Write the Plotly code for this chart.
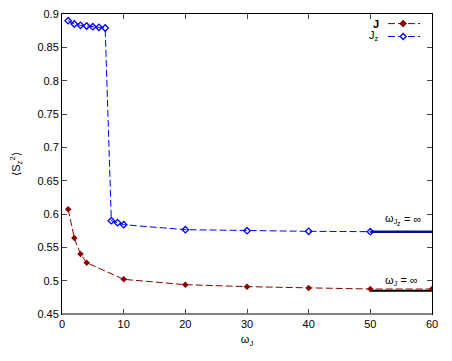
import plotly.graph_objects as go

# omega_J values and <S_z^2>
x_j = [1, 2, 3, 4, 10, 20, 30, 40, 50, 60]
s_j = [0.607, 0.564, 0.540, 0.527, 0.502, 0.494, 0.491, 0.489, 0.4875, 0.4875]

x_jz = [1, 2, 3, 4, 5, 6, 7, 8, 9, 10, 20, 30, 40, 50]
s_jz = [0.890, 0.885, 0.883, 0.882, 0.881, 0.880, 0.879, 0.590, 0.587, 0.584, 0.5765, 0.575, 0.574, 0.5735]

# limits for omega -> infinity
x_inf = [50, 60]
jz_inf = [0.5735, 0.5735]
j_inf = [0.485, 0.485]

red = "#8b0000"
blue = "#0000ff"
fam = "Liberation Sans, Arial, sans-serif"
font = dict(family=fam, size=11, color="black")
dash = "7px,3px"

fig = go.Figure()

# asymptote lines
fig.add_trace(go.Scatter(x=x_inf, y=jz_inf, mode="lines",
                         line=dict(color="#10108a", width=2.5), showlegend=False))
fig.add_trace(go.Scatter(x=x_inf, y=j_inf, mode="lines",
                         line=dict(color="black", width=2), showlegend=False))

fig.add_trace(go.Scatter(x=x_jz, y=s_jz, mode="lines+markers", name="J_z",
                         line=dict(color=blue, width=1, dash=dash),
                         marker=dict(symbol="diamond-open", size=5, color=blue, line=dict(width=1.3)),
                         showlegend=False))
fig.add_trace(go.Scatter(x=x_j, y=s_j, mode="lines+markers", name="J",
                         line=dict(color=red, width=1, dash=dash),
                         marker=dict(symbol="diamond", size=5, color=red),
                         showlegend=False))

# gnuplot-like key: text on the left, sample on the right
key = [("<b>J</b>", red, 0.968, "diamond"), ("J<sub>z</sub>", blue, 0.925, "diamond-open")]
for label, col, yk, sym in key:
    fig.add_annotation(x=0.862, y=yk, xref="paper", yref="paper", text=label,
                       showarrow=False, xanchor="right", yanchor="middle",
                       font=dict(family=fam, size=11, color="black"))
    fig.add_shape(type="line", xref="paper", yref="paper", x0=0.881, x1=0.968, y0=yk, y1=yk,
                  line=dict(color=col, width=1, dash=dash))
    dx, dy = 0.008, 0.010
    path = f"M {0.922-dx},{yk} L 0.922,{yk+dy} L {0.922+dx},{yk} L 0.922,{yk-dy} Z"
    fig.add_shape(type="path", xref="paper", yref="paper", path=path,
                  line=dict(color=col, width=1.3),
                  fillcolor=col if sym == "diamond" else "white")

# gray bottom border as in the original
fig.add_shape(type="line", xref="paper", yref="paper", x0=0, x1=1, y0=0, y1=0,
              line=dict(color="#808080", width=2))

# omega = infinity labels
small = dict(family=fam, size=11, color="black")
fig.add_annotation(x=52.0, y=0.592, text="ω<sub>J</sub>", showarrow=False, xanchor="left",
                   yanchor="middle", font=small)
fig.add_annotation(x=54.0, y=0.5855, text="z", showarrow=False, xanchor="left",
                   yanchor="middle", font=dict(family=fam, size=7, color="black"))
fig.add_annotation(x=55.2, y=0.5925, text="= ∞", showarrow=False, xanchor="left",
                   yanchor="middle", font=small)
fig.add_annotation(x=52.0, y=0.5, text="ω<sub>J</sub> = ∞", showarrow=False, xanchor="left",
                   yanchor="middle", font=small)

axis_common = dict(showgrid=False, zeroline=False, ticks="inside", ticklen=5,
                   mirror="allticks", showline=True, linecolor="black", linewidth=1,
                   tickfont=font, automargin=False, ticklabeloverflow="allow")
fig.update_xaxes(range=[0, 60], tickvals=[0, 10, 20, 30, 40, 50, 60],
                 title=dict(text="ω<sub>J</sub>", font=font, standoff=6), **axis_common)
fig.update_yaxes(range=[0.45, 0.9], tickvals=[0.45, 0.5, 0.55, 0.6, 0.65, 0.7, 0.75, 0.8, 0.85, 0.9],
                 ticktext=["0.45", "0.5", "0.55", "0.6", "0.65", "0.7", "0.75", "0.8", "0.85", "0.9"],
                 title=dict(text="⟨S<sub>z</sub><sup>2</sup>⟩", font=font, standoff=14), **axis_common)

# page body adds an 8px offset, so margins are shifted accordingly
fig.update_layout(width=452, height=361, margin=dict(l=54, r=28, t=6, b=55),
                  paper_bgcolor="white", plot_bgcolor="white", font=font)

fig.write_html("out.html")
